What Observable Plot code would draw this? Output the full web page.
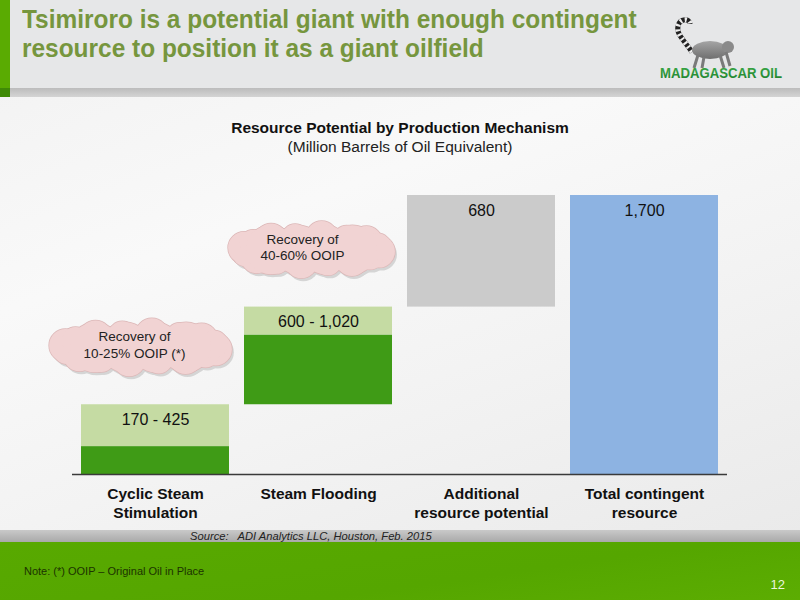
<!DOCTYPE html>
<html><head><meta charset="utf-8">
<script src="https://cdn.jsdelivr.net/npm/d3@7"></script>
<script src="https://cdn.jsdelivr.net/npm/@observablehq/plot@0.6"></script>
<style>
html,body{margin:0;padding:0;}
body{width:800px;height:600px;overflow:hidden;font-family:"Liberation Sans",Arial,sans-serif;}
#slide{position:relative;width:800px;height:600px;background:linear-gradient(160deg,#f1f1f1 0%,#f9f9f9 35%,#f3f3f3 60%,#e8e8e8 100%);overflow:hidden;}
.abs{position:absolute;}
#hdr{left:0;top:0;width:800px;height:88px;background:#e6e7e8;}
#hdrShadow{left:0;top:88px;width:800px;height:9px;background:linear-gradient(#bcbcbc,#d4d4d4);}
#stripe{left:0;top:0;width:10px;height:88px;background:#5aab02;}
#stripe2{left:0;top:88px;width:10px;height:9px;background:#3f8a06;}
#title{left:22px;top:5px;font-weight:bold;font-size:26px;line-height:29px;color:#76963e;white-space:nowrap;transform:scaleX(0.94);transform-origin:0 0;}
#ctitle{left:0;width:800px;top:119px;text-align:center;font-weight:bold;font-size:15.5px;color:#111;}
#csub{left:0;width:800px;top:138px;text-align:center;font-size:15.5px;color:#222;}
#foot1{left:0;top:530px;width:800px;height:12px;background:linear-gradient(#c9c9c9,#a9a9a9);}
#foot2{left:0;top:542px;width:800px;height:58px;background:linear-gradient(172deg,#58a900 0%,#55a600 60%,#5cad02 100%);}
#source{left:190px;top:530px;font-style:italic;font-size:11.2px;color:#222;white-space:pre;}
#note{left:24px;top:565px;font-size:11px;color:#1c3300;}
#pg{right:15px;top:577px;font-size:13px;color:#eaf6de;}
#chart{left:0;top:0;}
</style></head>
<body>
<div id="slide">
  <div class="abs" id="hdr"></div>
  <div class="abs" id="hdrShadow"></div>
  <div class="abs" id="stripe"></div>
  <div class="abs" id="stripe2"></div>
  <div class="abs" id="title">Tsimiroro is a potential giant with enough contingent<br>resource to position it as a giant oilfield</div>
  <svg class="abs" style="left:640px;top:0" width="158" height="90">
    <defs><linearGradient id="lg" x1="0" x2="0" y1="0" y2="1"><stop offset="0" stop-color="#3fae4a"/><stop offset="1" stop-color="#1e7f2c"/></linearGradient>
    <linearGradient id="bg" x1="0" x2="0" y1="0" y2="1"><stop offset="0" stop-color="#a5a5a5"/><stop offset="1" stop-color="#6f6f6f"/></linearGradient></defs>
    <path d="M52,52 C44,40 36,34 38,26 C40,18 50,18 50,24" fill="none" stroke="#222" stroke-width="5"/>
    <path d="M52,52 C44,40 36,34 38,26 C40,18 50,18 50,24" fill="none" stroke="#eee" stroke-width="5" stroke-dasharray="2 3"/>
    <ellipse cx="70" cy="50" rx="18" ry="9" fill="url(#bg)"/>
    <circle cx="88" cy="47" r="6" fill="#8a8a8a"/>
    <path d="M58,55 L54,68 M64,57 L62,68 M80,55 L84,68 M86,52 L90,66" stroke="#7a7a7a" stroke-width="3"/>
    <text x="20" y="78" textLength="122" lengthAdjust="spacingAndGlyphs" font-family="Liberation Sans, Arial" font-weight="bold" font-size="15" fill="url(#lg)">MADAGASCAR OIL</text>
  </svg>
  <div class="abs" id="ctitle">Resource Potential by Production Mechanism</div>
  <div class="abs" id="csub">(Million Barrels of Oil Equivalent)</div>
  <div class="abs" id="foot1"></div>
  <div class="abs" id="foot2"></div>
  <div class="abs" id="source">Source:   ADI Analytics LLC, Houston, Feb. 2015</div>
  <div class="abs" id="note">Note:  (*) OOIP – Original Oil in Place</div>
  <div class="abs" id="pg">12</div>
  <div class="abs" id="chart"></div>
</div>
<script>
// ---- data ----
const categories = ["Cyclic Steam Stimulation", "Steam Flooding", "Additional resource potential", "Total contingent resource"];
const axisLabels = ["Cyclic Steam\nStimulation", "Steam Flooding", "Additional\nresource potential", "Total contingent\nresource"];

const segCategory = [categories[0], categories[0], categories[1], categories[1], categories[2], categories[3]];
const segLow  = [0, 170, 425, 850, 1020, 0];
const segHigh = [170, 425, 850, 1020, 1700, 1700];
const segKind = ["base", "range", "base", "range", "additional", "total"];

const labelCategory = categories;
const labelTop  = [425, 1020, 1700, 1700];
const labelText = ["170 - 425", "600 - 1,020", "680", "1,700"];

const cloudCategory = [categories[0], categories[1]];
const cloudValue = [775, 1370];
const cloudText = ["Recovery of\n10-25% OOIP (*)", "Recovery of\n40-60% OOIP"];

// ---- styles ----
const kinds = ["base", "range", "additional", "total"];
const kindColors = ["#3f9b16", "#c5dba3", "#cbcbcb", "#8db3e2"];
const cloudDx = [-15, -7];
const cloudTextDx = [-6, -9];
const cloudW = [182, 166];
const cloudH = [56, 55];

const segments = segCategory.map((c, i) => ({cat: c, low: segLow[i], high: segHigh[i], kind: segKind[i]}));
const labels = labelCategory.map((c, i) => ({cat: c, top: labelTop[i], text: labelText[i]}));
const clouds = cloudCategory.map((c, i) => ({cat: c, v: cloudValue[i], text: cloudText[i]}));

function cloudCircles(W, H) {
  const r = H * 0.27;
  const a = W / 2 - r, b = H / 2 - r;
  const out = [];
  const n = 16;
  for (let i = 0; i < n; i++) {
    const t = 2 * Math.PI * i / n + 0.15;
    out.push({ox: a * Math.cos(t), oy: b * Math.sin(t), r: r * (i % 2 ? 0.9 : 1.08)});
  }
  for (const f of [-0.6, -0.2, 0.2, 0.6]) out.push({ox: a * f, oy: 0, r: b + r * 0.8});
  return out;
}

const cloudMarks = [];
clouds.forEach((cl, k) => {
  const circ = cloudCircles(cloudW[k], cloudH[k]);
  const base = {x: "cat", y: "v"};
  circ.forEach(c => cloudMarks.push(Plot.dot([cl], {...base, r: c.r, dx: cloudDx[k] + c.ox + 2, dy: c.oy + 3, fill: "#d5d5d5"})));
  circ.forEach(c => cloudMarks.push(Plot.dot([cl], {...base, r: c.r, dx: cloudDx[k] + c.ox, dy: c.oy, fill: "#dcb8b8", stroke: "#dcb8b8", strokeWidth: 1.5})));
  circ.forEach(c => cloudMarks.push(Plot.dot([cl], {...base, r: c.r, dx: cloudDx[k] + c.ox, dy: c.oy, fill: "#f1d3d3"})));
  cloudMarks.push(Plot.text([cl], {...base, text: "text", dx: cloudDx[k] + cloudTextDx[k], dy: -3, fontSize: 13.5, lineHeight: 1.22, fill: "#222"}));
});

const chart = Plot.plot({
  width: 800,
  height: 600,
  marginLeft: 72,
  marginRight: 73,
  marginTop: 100,
  marginBottom: 126,
  style: {background: "transparent", fontFamily: "'Liberation Sans', Arial, sans-serif", overflow: "visible"},
  x: {type: "band", domain: categories, range: [65.3, 734.7], padding: 0.09, axis: null},
  y: {domain: [0, 1700], range: [474, 195], axis: null},
  color: {domain: kinds, range: kindColors},
  marks: [
    ...cloudMarks,
    Plot.barY(segments, {x: "cat", y1: "low", y2: "high", fill: "kind"}),
    Plot.ruleY([0], {stroke: "#3a3a3a", strokeWidth: 1.5}),
    Plot.text(labels, {x: "cat", y: "top", text: "text", dy: 15, fontSize: 16, fill: "#111"}),
    Plot.axisX({
      tickSize: 0,
      tickPadding: 12,
      tickFormat: d => axisLabels[categories.indexOf(d)],
      fontSize: 15.5,
      fontWeight: "bold",
      lineHeight: 1.17,
      fill: "#111",
      label: null
    })
  ]
});
document.getElementById("chart").appendChild(chart);
</script>
</body></html>
